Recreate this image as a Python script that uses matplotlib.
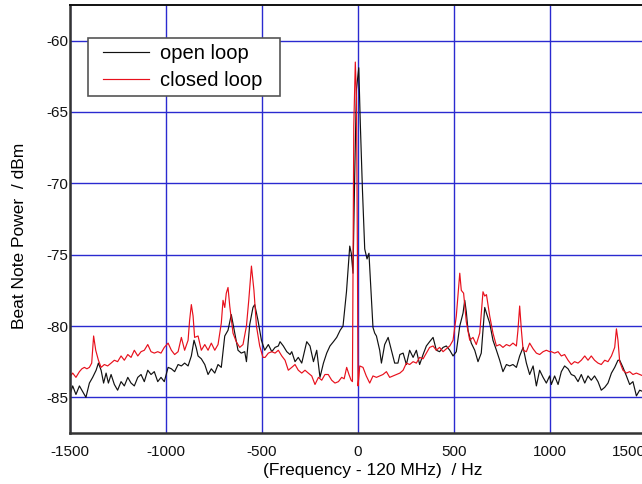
import matplotlib
matplotlib.use("Agg")
import matplotlib.pyplot as plt
from matplotlib.legend_handler import HandlerLine2D

# open loop trace (black)
open_freq = [
    -1503, -1486, -1469, -1451, -1434, -1417, -1399, -1382, -1364, -1352,
    -1338, -1325, -1312, -1300, -1286, -1269, -1252, -1234, -1217, -1199,
    -1182, -1165, -1147, -1130, -1113, -1095, -1078, -1061, -1043, -1026,
    -1009, -989, -972, -955, -937, -920, -903, -885, -868, -854,
    -843, -833, -816, -798, -781, -764, -746, -729, -712, -694,
    -677, -660, -642, -625, -608, -590, -581, -564, -547, -538,
    -521, -503, -486, -467, -449, -432, -415, -406, -389, -371,
    -354, -345, -328, -311, -293, -267, -250, -232, -215, -198,
    -180, -163, -146, -128, -111, -93, -78, -60, -43, -35,
    -26, -17, -8, 4, 12, 23, 35, 47, 57, 70,
    78, 87, 96, 113, 122, 139, 157, 174, 191, 208,
    218, 235, 252, 269, 287, 304, 321, 339, 356, 373,
    391, 408, 425, 443, 460, 478, 495, 512, 530, 547,
    556, 564, 573, 590, 608, 625, 642, 651, 660, 669,
    686, 703, 721, 738, 755, 773, 790, 807, 825, 842,
    860, 877, 894, 912, 929, 946, 964, 981, 998, 1007,
    1024, 1042, 1059, 1076, 1094, 1111, 1128, 1146, 1163, 1181,
    1198, 1215, 1232, 1250, 1267, 1285, 1302, 1320, 1337, 1354,
    1363, 1380, 1398, 1415, 1432, 1450, 1467, 1485,
]
open_dbm = [
    -84.9, -84.2, -84.8, -84.2, -84.6, -85.0, -84.0, -83.6, -83.1, -82.6,
    -83.1, -84.0, -83.3, -84.0, -83.4, -84.1, -84.5, -83.9, -84.2, -83.6,
    -84.0, -84.2, -83.6, -83.4, -83.9, -83.1, -83.4, -83.2, -83.9, -83.6,
    -83.9, -82.9, -83.0, -83.2, -82.7, -82.8, -82.6, -82.8, -82.1, -81.0,
    -81.5, -82.1, -82.3, -82.7, -83.4, -83.0, -83.3, -82.7, -82.9, -80.7,
    -80.3, -79.2, -80.5, -81.7, -81.9, -81.8, -82.5, -79.9, -78.7, -78.5,
    -79.6, -81.0, -81.7, -81.3, -81.8, -81.5, -81.4, -81.1, -81.4, -81.8,
    -82.0, -81.8, -82.5, -82.2, -82.6, -81.1, -81.4, -82.5, -81.7, -83.6,
    -82.6, -81.9, -81.4, -81.1, -80.8, -80.3, -80.0, -77.6, -74.4, -74.9,
    -76.3, -69.3, -63.4, -61.9, -65.8, -70.4, -74.6, -75.3, -74.9, -78.1,
    -80.1, -80.5, -80.7, -81.7, -82.6, -81.3, -80.8, -81.7, -82.6, -82.6,
    -82.0, -81.9, -82.7, -81.7, -82.2, -81.7, -82.7, -82.0, -81.4, -81.1,
    -80.8, -81.7, -81.8, -81.5, -81.4, -81.7, -82.1, -81.8, -80.0, -79.1,
    -78.2, -79.0, -80.3, -81.2, -81.7, -82.5, -81.9, -80.3, -78.7, -79.1,
    -79.8, -81.0, -81.7, -82.4, -83.2, -82.7, -82.8, -82.7, -82.9, -82.1,
    -81.5, -82.6, -83.4, -82.8, -84.2, -83.1, -83.6, -84.0, -83.5, -84.1,
    -83.5, -84.1, -83.2, -82.8, -83.0, -83.4, -83.5, -83.9, -83.4, -84.0,
    -83.5, -83.8, -83.5, -83.9, -84.5, -84.3, -84.0, -83.3, -82.9, -82.4,
    -82.4, -82.9, -83.5, -84.1, -83.9, -84.9, -84.5, -84.6,
]

# closed loop trace (red)
closed_freq = [
    -1503, -1486, -1469, -1451, -1438, -1425, -1412, -1399, -1387, -1377,
    -1366, -1352, -1338, -1321, -1304, -1286, -1269, -1252, -1234, -1217,
    -1199, -1182, -1165, -1147, -1130, -1113, -1095, -1078, -1061, -1043,
    -1026, -1009, -989, -972, -955, -937, -920, -903, -885, -877,
    -868, -859, -851, -833, -816, -798, -781, -764, -746, -729,
    -712, -703, -694, -686, -677, -668, -651, -634, -616, -599,
    -581, -569, -555, -542, -529, -512, -495, -484, -467, -449,
    -432, -415, -397, -380, -363, -345, -328, -311, -293, -276,
    -259, -241, -224, -206, -189, -172, -155, -137, -120, -102,
    -85, -72, -59, -47, -36, -29, -22, -14, -8, -3,
    0, 5, 9, 26, 43, 61, 78, 96, 113, 130,
    148, 165, 183, 200, 218, 235, 252, 269, 287, 304,
    321, 339, 356, 373, 391, 408, 425, 443, 460, 478,
    495, 512, 530, 538, 550, 564, 582, 599, 616, 634,
    651, 660, 669, 686, 703, 721, 738, 755, 773, 790,
    807, 825, 833, 842, 851, 860, 877, 894, 912, 929,
    946, 964, 981, 998, 1007, 1024, 1042, 1059, 1076, 1094,
    1111, 1128, 1146, 1163, 1181, 1198, 1215, 1232, 1250, 1267,
    1285, 1302, 1320, 1337, 1346, 1354, 1363, 1380, 1398, 1415,
    1432, 1450, 1467, 1485,
]
closed_dbm = [
    -83.6, -83.3, -83.6, -83.2, -83.0, -82.9, -83.0, -82.9, -82.6, -80.7,
    -81.7, -82.4, -82.9, -82.7, -82.8, -82.6, -82.4, -82.5, -82.1, -82.4,
    -82.0, -82.2, -81.7, -82.1, -81.8, -81.7, -81.3, -81.8, -81.9, -81.8,
    -81.9, -81.5, -81.2, -81.7, -82.0, -81.8, -80.8, -81.7, -81.0, -79.6,
    -78.5, -79.3, -80.8, -80.7, -81.7, -81.3, -81.7, -81.2, -81.7, -81.3,
    -79.8, -78.2, -78.7, -77.7, -77.3, -78.6, -80.5, -81.1, -81.5, -81.3,
    -80.0, -78.2, -75.8, -77.5, -80.0, -81.4, -82.2, -82.2, -81.9, -81.8,
    -81.9, -81.7, -82.1, -82.4, -83.1, -82.9, -82.7, -83.1, -83.3, -83.1,
    -83.3, -83.5, -84.1, -83.6, -83.8, -83.4, -83.4, -83.8, -84.0, -83.9,
    -83.6, -83.7, -82.9, -83.4, -83.8, -83.9, -66.0, -61.5, -64.0, -75.0,
    -84.2, -83.5, -82.8, -82.9, -83.5, -84.0, -83.5, -83.6, -83.5, -83.4,
    -83.2, -83.6, -83.5, -83.4, -83.3, -83.1, -82.6, -82.7, -82.5, -82.6,
    -82.2, -82.3, -81.9, -81.5, -81.4, -81.7, -81.5, -81.8, -81.6, -81.4,
    -81.0, -79.3, -76.3, -77.5, -77.7, -79.7, -81.0, -80.8, -81.3, -80.5,
    -77.6, -77.9, -77.8, -79.3, -80.5, -81.4, -81.3, -81.5, -81.3, -81.4,
    -81.2, -81.4, -80.3, -78.6, -80.3, -81.7, -81.8, -81.2, -81.6, -81.9,
    -82.0, -81.8, -81.7, -81.8, -81.8, -81.9, -81.8, -82.1, -82.0, -82.4,
    -82.7, -82.5, -82.6, -82.4, -82.1, -82.4, -82.1, -82.4, -82.6, -82.7,
    -82.4, -82.5, -82.1, -81.5, -80.2, -81.0, -82.5, -83.1, -83.3, -83.2,
    -83.4, -83.3, -83.4, -83.5,
]

x_ticks = [-1500, -1000, -500, 0, 500, 1000, 1500]
y_ticks = [-85, -80, -75, -70, -65, -60]

plt.rcParams['font.family'] = ['Liberation Sans', 'DejaVu Sans']
plt.rcParams['axes.unicode_minus'] = False

fig = plt.figure(figsize=(6.42, 4.84), dpi=100)
ax = fig.add_axes([70 / 642, 51 / 484, 576 / 642, 428 / 484])

ax.plot(open_freq, open_dbm, color='#111111', lw=0.85, label='open loop  ')
ax.plot(closed_freq, closed_dbm, color='#e8101c', lw=0.85, label='closed loop  ')

ax.set_xlim(-1500, 1500)
ax.set_ylim(-87.5, -57.5)
ax.set_xticks(x_ticks)
ax.set_yticks(y_ticks)
ax.grid(True, color='#2a2ad0', lw=1.0)
ax.set_axisbelow(True)

ax.tick_params(axis='both', length=0, labelsize=11, colors='#111111')
ax.tick_params(axis='x', pad=9)
ax.tick_params(axis='y', pad=1)
ax.get_xticklabels()[-1].set_horizontalalignment('right')

for side in ['left', 'bottom']:
    ax.spines[side].set_color('#333333')
    ax.spines[side].set_linewidth(1.8)
ax.spines['top'].set_color('#111111')
ax.spines['top'].set_linewidth(1.4)

ax.set_xlabel('(Frequency - 120 MHz)  / Hz', fontsize=12.5)
ax.xaxis.set_label_coords(0.525, -0.07)
ax.set_ylabel('Beat Note Power  / dBm', fontsize=12.5)
ax.yaxis.set_label_coords(-0.075, 0.46)

leg = ax.legend(loc='upper left', bbox_to_anchor=(18 / 576, 1 - 33 / 428),
                fontsize=14.5, fancybox=False, framealpha=1,
                edgecolor='#555555', handlelength=2.75, handletextpad=0.55,
                borderpad=0.3, labelspacing=0.4, borderaxespad=0,
                handler_map={plt.Line2D: HandlerLine2D(xpad=0.45)})
leg.get_frame().set_linewidth(1.2)

fig.savefig('out.png', dpi=100)
